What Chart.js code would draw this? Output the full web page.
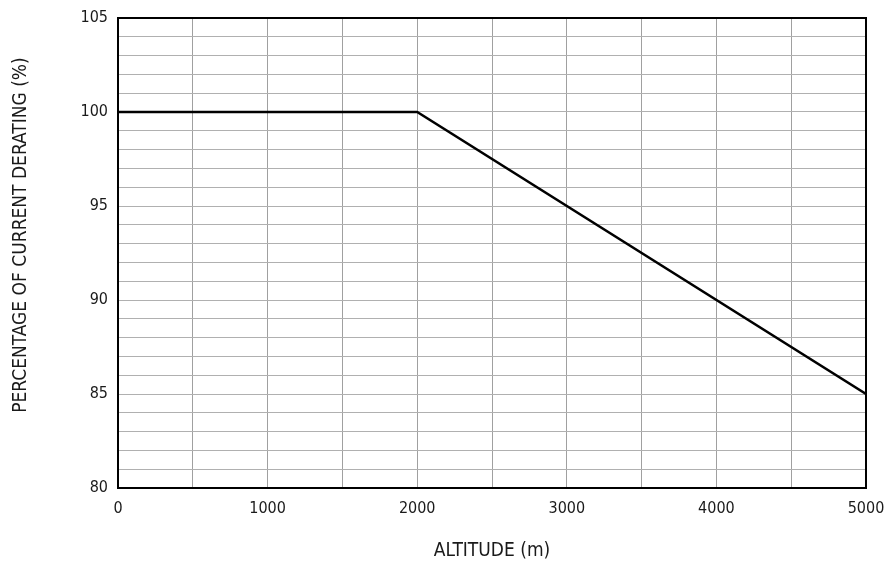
<!DOCTYPE html>
<html>
<head>
<meta charset="utf-8">
<script src="https://cdn.jsdelivr.net/npm/chart.js@4/dist/chart.umd.min.js"></script>
<style>
  html, body { margin: 0; padding: 0; background: #fff; }
  #wrap { width: 887px; height: 571px; }
</style>
</head>
<body>
<div id="wrap"><canvas id="chart"></canvas></div>
<script>
'use strict';

// ── dados ───────────────────────────────────────────────────────────────────
const ALTITUDE  = [0, 2000, 5000];
const DERATING  = [100, 100, 85];
const X_TICKS   = [0, 1000, 2000, 3000, 4000, 5000];
const Y_TICKS   = [80, 85, 90, 95, 100, 105];
const X_TITLE   = 'ALTITUDE (m)';
const Y_TITLE   = 'PERCENTAGE OF CURRENT DERATING (%)';

const FONT = "'Liberation Sans Narrow', 'DejaVu Sans Condensed', 'Arial Narrow', sans-serif";
const TEXT = '#1a1a1a';

// moldura preta + títulos dos eixos
const frame = {
    id: 'frame',
    afterDraw(chart) {
        const { ctx, chartArea: a } = chart;
        ctx.save();
        ctx.strokeStyle = '#000';
        ctx.lineWidth = 2;
        ctx.strokeRect(a.left, a.top, a.right - a.left, a.bottom - a.top);

        ctx.fillStyle = TEXT;
        ctx.font = `19px ${FONT}`;
        ctx.textAlign = 'center';
        ctx.textBaseline = 'middle';
        ctx.fillText(X_TITLE, (a.left + a.right) / 2, 551);

        ctx.translate(21, 235);
        ctx.rotate(-Math.PI / 2);
        ctx.fillText(Y_TITLE, 0, 0);
        ctx.restore();
    },
};

new Chart(document.getElementById('chart'), {
    type: 'line',
    data: {
        datasets: [{
            data: ALTITUDE.map((x, i) => ({ x, y: DERATING[i] })),
            borderColor: '#000',
            borderWidth: 2.5,
            pointRadius: 0,
            tension: 0,
        }],
    },
    options: {
        responsive: true,
        maintainAspectRatio: false,
        animation: false,
        layout: { padding: { left: 0, right: 21, top: 18, bottom: 0 } },
        plugins: { legend: { display: false }, tooltip: { enabled: false } },
        scales: {
            x: {
                type: 'linear',
                min: 0, max: 5000,
                afterBuildTicks: s => { s.ticks = []; for (let v = 0; v <= 5000; v += 500) s.ticks.push({ value: v }); },
                afterFit: s => { s.height = 83; s.paddingLeft = 0; s.paddingRight = 0; },
                grid: { color: '#a0a0a0', lineWidth: 1, drawTicks: false },
                border: { display: false },
                ticks: {
                    color: TEXT,
                    font: { family: FONT, size: 16 },
                    padding: 11,
                    maxRotation: 0,
                    autoSkip: false,
                    callback: v => X_TICKS.includes(v) ? String(v) : '',
                },
            },
            y: {
                type: 'linear',
                min: 80, max: 105,
                afterBuildTicks: s => { s.ticks = []; for (let v = 80; v <= 105; v += 1) s.ticks.push({ value: v }); },
                afterFit: s => { s.width = 118; s.paddingTop = 0; s.paddingBottom = 0; },
                grid: { color: '#b0b0b0', lineWidth: 1, drawTicks: false },
                border: { display: false },
                ticks: {
                    color: TEXT,
                    font: { family: FONT, size: 16 },
                    padding: 10,
                    autoSkip: false,
                    callback: v => Y_TICKS.includes(v) ? String(v) : '',
                },
            },
        },
    },
    plugins: [frame],
});
</script>
</body>
</html>
